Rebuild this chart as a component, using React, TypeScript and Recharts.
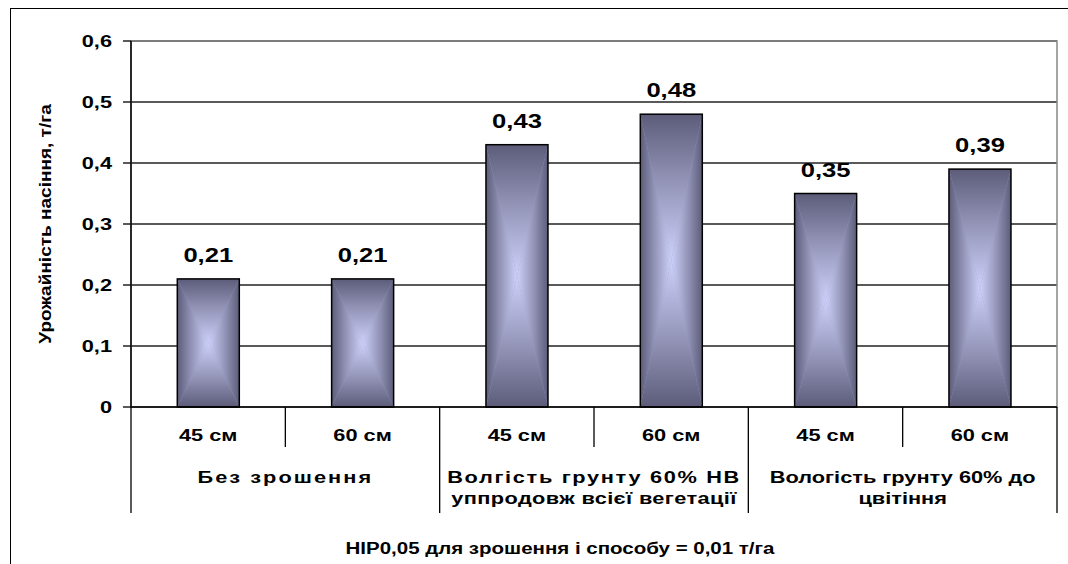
import React from 'react';
import { BarChart, Bar, XAxis, YAxis, CartesianGrid, LabelList, ReferenceArea } from 'recharts';

const categories = ['45 см', '60 см', '45 см', '60 см', '45 см', '60 см'];
const yieldValues = [0.21, 0.21, 0.43, 0.48, 0.35, 0.39];
const groupLabels = [
  ['Без зрошення'],
  ['Волгість грунту 60% НВ', 'уппродовж всієї вегетації'],
  ['Вологість грунту 60% до', 'цвітіння'],
];
const yTicks = [0, 0.1, 0.2, 0.3, 0.4, 0.5, 0.6];
const yTitle = 'Урожайність насіння, т/га';
const footnote = 'НІР0,05 для зрошення і способу = 0,01 т/га';

// letter spacing per group-label line (style only)
const GROUP_SPACING = [[1.6], [1.3, 0.3], [0, 0]];

const data = categories.map((c, i) => ({ cat: c, key: `${i}`, value: yieldValues[i] }));

const W = 1068;
const H = 564;
const MARGIN = { top: 41, right: 11, left: 20, bottom: 47 };
const Y_AXIS_W = 111;
const PLOT_W = W - MARGIN.left - Y_AXIS_W - MARGIN.right;
const FONT = "'Liberation Sans', Arial, sans-serif";
const SX = 1.28;

const fmt = (v: number) => String(v).replace('.', ',');

const SText = ({ x, y, size, anchor = 'middle', rotate = 0, spacing = 0, sx = SX, children }: any) => (
  <text
    transform={`translate(${x},${y}) rotate(${rotate}) scale(${sx},1)`}
    x={0}
    y={0}
    textAnchor={anchor}
    fontFamily={FONT}
    fontWeight="bold"
    fontSize={size}
    letterSpacing={spacing}
    fill="#000"
  >
    {children}
  </text>
);

const GradientBar = (props: any) => {
  const { x, y, width, height } = props;
  if (!height || height <= 0) return null;
  const cx = x + width / 2;
  const cy = y + height / 2;
  const r = x + width;
  const b = y + height;
  return (
    <g>
      <rect x={x} y={y} width={width} height={height} fill="#9a9cc4" />
      <polygon points={`${x},${y} ${r},${y} ${cx},${cy}`} fill="url(#gTop)" />
      <polygon points={`${x},${b} ${r},${b} ${cx},${cy}`} fill="url(#gBot)" />
      <polygon points={`${x},${y} ${x},${b} ${cx},${cy}`} fill="url(#gLeft)" />
      <polygon points={`${r},${y} ${r},${b} ${cx},${cy}`} fill="url(#gRight)" />
      <rect x={x} y={y} width={width} height={height} fill="none" stroke="#000" strokeWidth={1.5} />
    </g>
  );
};

const CatTick = (props: any) => {
  const { x, y, payload, index } = props;
  const band = PLOT_W / categories.length;
  const i = typeof index === 'number' ? index : payload.index;
  const groupEnd = i % 2 === 1;
  const rightX = x + band / 2;
  const leftX = x - band / 2;
  const gi = Math.floor(i / 2);
  const g = groupLabels[gi];
  return (
    <g>
      <SText x={x} y={y + 34} size={17}>
        {categories[i]}
      </SText>
      <line x1={rightX} y1={y} x2={rightX} y2={y + (groupEnd ? 106 : 40)} stroke="#000" strokeWidth={1.3} />
      {i === 0 && <line x1={leftX} y1={y} x2={leftX} y2={y + 106} stroke="#000" strokeWidth={1.3} />}
      {i % 2 === 0 &&
        g.map((line, k) => (
          <SText key={k} x={rightX} y={y + 76 + k * 21} size={17} spacing={GROUP_SPACING[gi][k] || 0}>
            {line}
          </SText>
        ))}
    </g>
  );
};

const YTick = (props: any) => {
  const { x, y, payload } = props;
  return (
    <SText x={x} y={y + 6} size={17} anchor="end">
      {fmt(payload.value)}
    </SText>
  );
};

const YTitle = (props: any) => {
  const vb = props.viewBox || {};
  return (
    <SText x={(vb.x ?? 20) + 31} y={(vb.y ?? 41) + (vb.height ?? 366) / 2} size={17} rotate={-90} sx={1.12}>
      {yTitle}
    </SText>
  );
};

const BarLabel = (props: any) => {
  const { x, y, width, value } = props;
  return (
    <SText x={x + width / 2} y={y - 17} size={20}>
      {fmt(value)}
    </SText>
  );
};

const stops = (
  <>
    <stop offset="0" stopColor="#5c5c7a" />
    <stop offset="0.4" stopColor="#8c8daf" />
    <stop offset="1" stopColor="#cdd0fa" />
  </>
);

export default function App() {
  return (
    <div style={{ position: 'absolute', left: 0, top: 0, width: W, height: H, overflow: 'hidden', background: '#fff' }}>
      <div
        style={{
          position: 'absolute',
          left: 10,
          top: 8,
          width: 1100,
          height: 600,
          border: '1.5px solid #000',
          boxSizing: 'border-box',
        }}
      />
      <BarChart width={W} height={H} data={data} margin={MARGIN} barCategoryGap="30%">
        <defs>
          <linearGradient id="gTop" x1="0" y1="0" x2="0" y2="1">{stops}</linearGradient>
          <linearGradient id="gBot" x1="0" y1="1" x2="0" y2="0">{stops}</linearGradient>
          <linearGradient id="gLeft" x1="0" y1="0" x2="1" y2="0">{stops}</linearGradient>
          <linearGradient id="gRight" x1="1" y1="0" x2="0" y2="0">{stops}</linearGradient>
        </defs>
        <CartesianGrid vertical={false} stroke="#222" strokeWidth={1.3} />
        <ReferenceArea y1={0} y2={0.6} fill="none" stroke="#888" strokeWidth={1.5} ifOverflow="visible" />
        <XAxis
          dataKey="key"
          height={110}
          tickSize={0}
          tickMargin={0}
          interval={0}
          axisLine={{ stroke: '#000', strokeWidth: 1.5 }}
          tickLine={false}
          tick={(p: any) => <CatTick {...p} />}
        />
        <YAxis
          width={Y_AXIS_W}
          domain={[0, 0.6]}
          ticks={yTicks}
          tickSize={8}
          tickMargin={11}
          axisLine={{ stroke: '#000', strokeWidth: 1.5 }}
          tickLine={{ stroke: '#000', strokeWidth: 1.3 }}
          tick={(p: any) => <YTick {...p} />}
          label={{ content: (p: any) => <YTitle {...p} /> } as any}
        />
        <Bar dataKey="value" shape={<GradientBar />} isAnimationActive={false}>
          <LabelList dataKey="value" content={(p: any) => <BarLabel {...p} />} />
        </Bar>
      </BarChart>
      <div
        style={{
          position: 'absolute',
          left: 0,
          width: 1120,
          top: 540,
          textAlign: 'center',
          fontFamily: FONT,
          fontWeight: 'bold',
          fontSize: 16,
          color: '#000',
          transform: `scaleX(${SX})`,
          transformOrigin: '560px 0',
          whiteSpace: 'nowrap',
        }}
      >
        {footnote}
      </div>
    </div>
  );
}
